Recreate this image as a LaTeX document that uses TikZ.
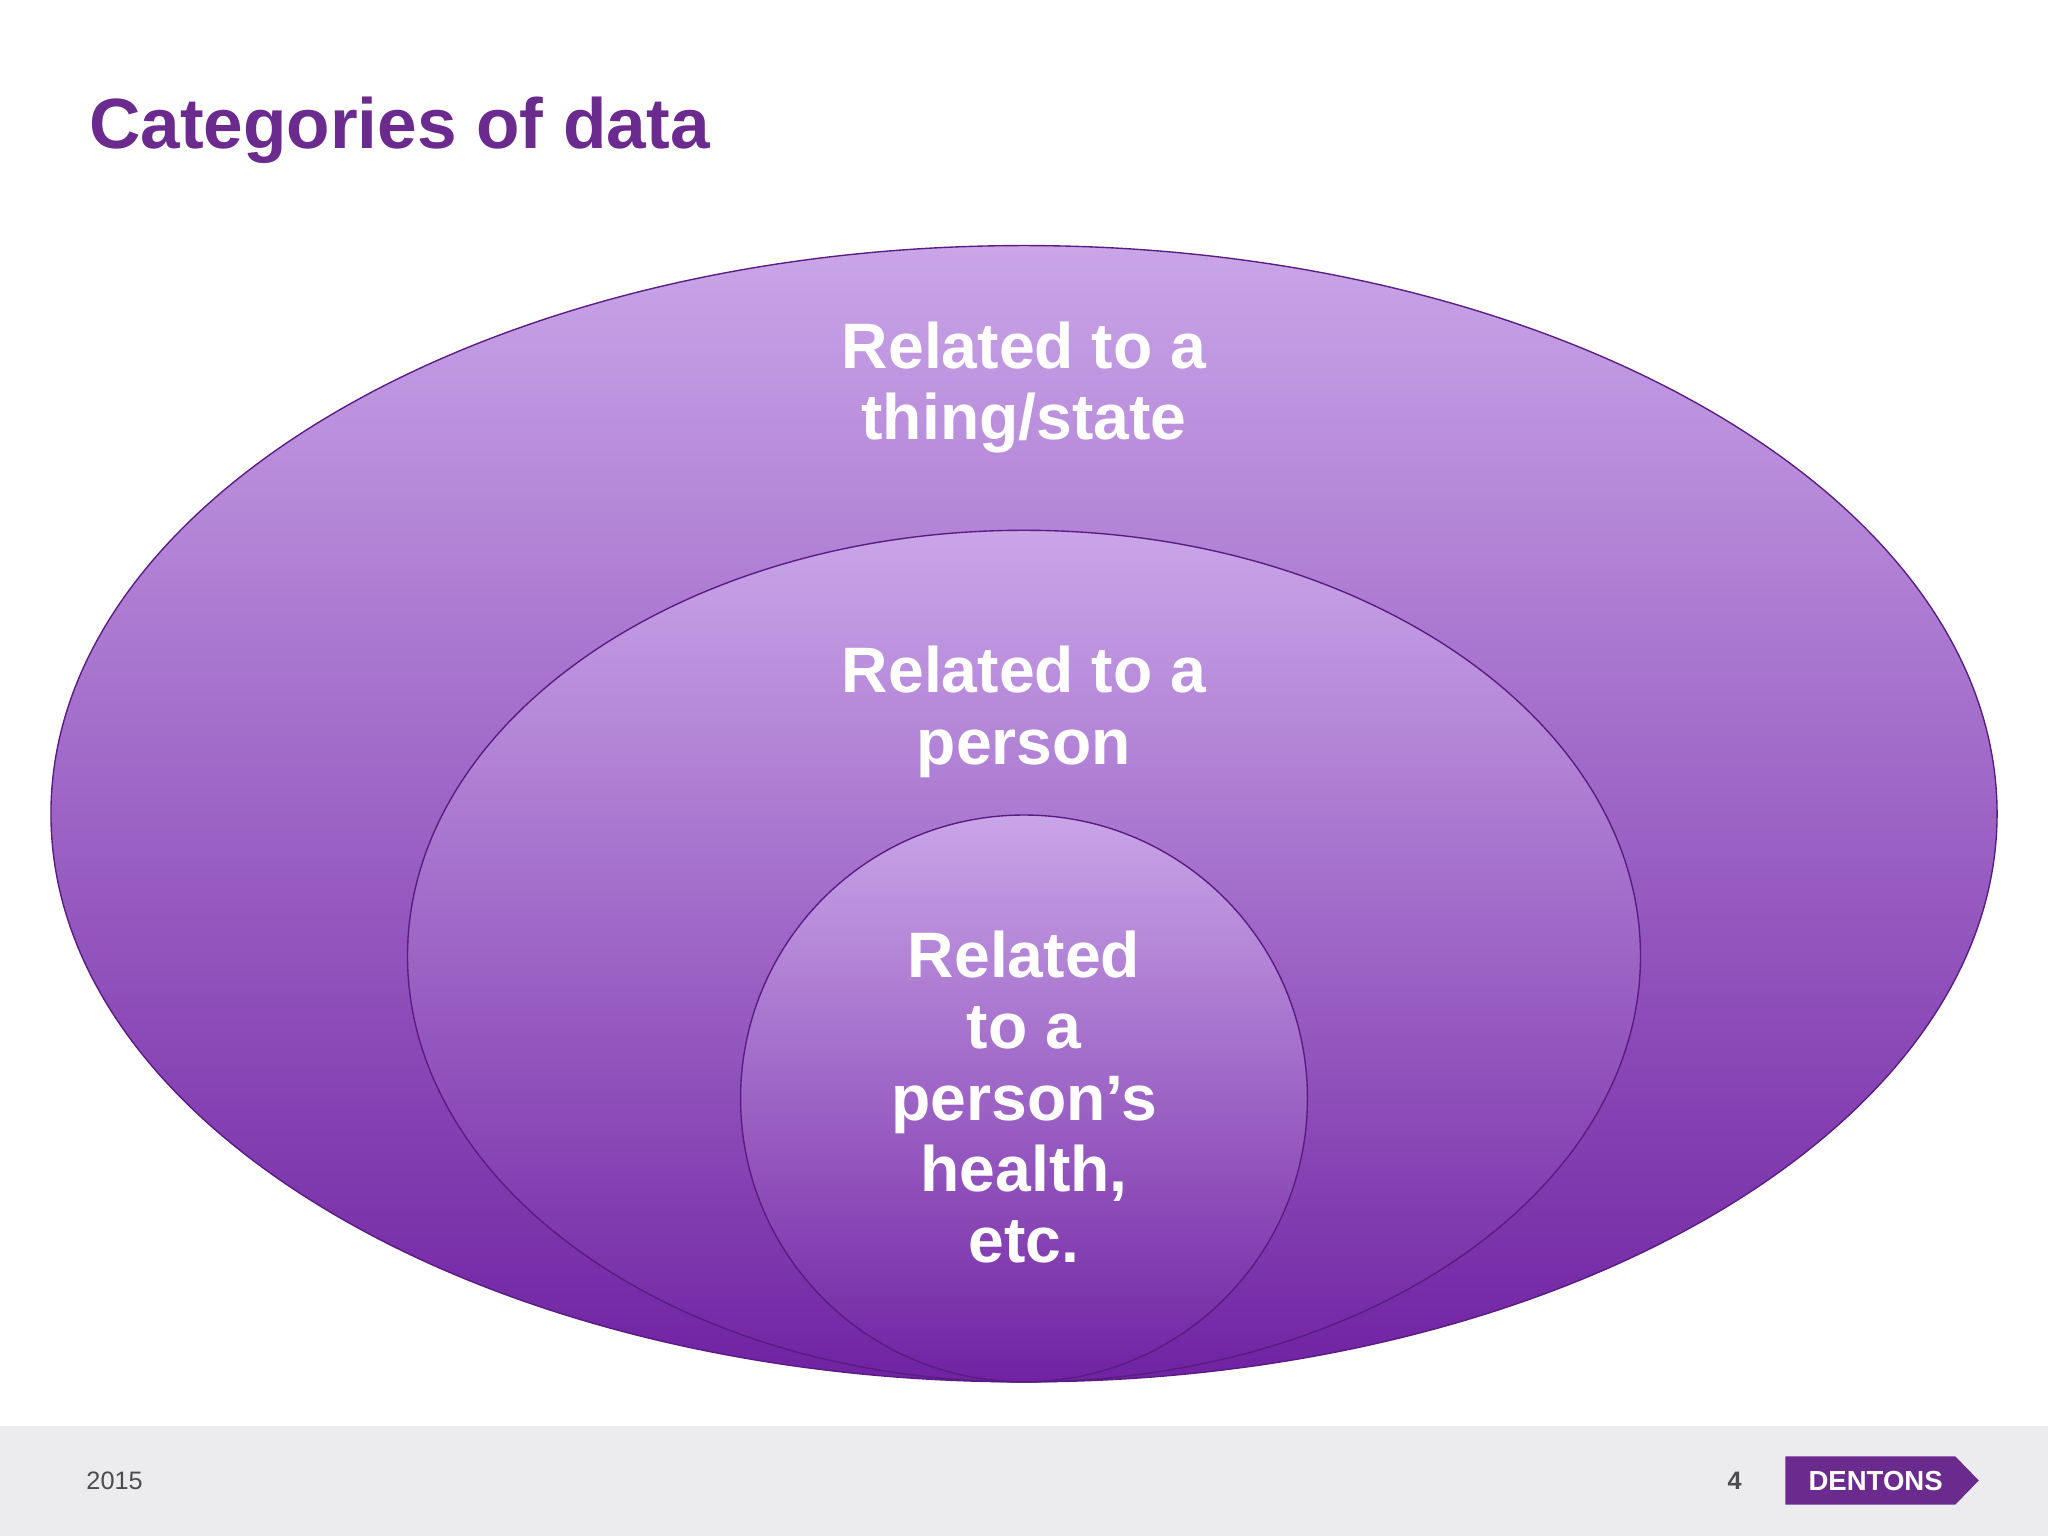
\documentclass[tikz,border=0pt]{standalone}
\usepackage{fontspec}
\setmainfont{Liberation Sans}
\begin{document}
\begin{tikzpicture}[x=0.02cm,y=-0.02cm,
  ell/.style={top color=lav, bottom color=deep, draw=deep!80!black, line width=0.6pt},
  lbl/.style={text=white, font=\bfseries\fontsize{28}{31}\selectfont, align=center}]
\definecolor{lav}{HTML}{C9A5E8}
\definecolor{deep}{HTML}{7022A2}
\definecolor{ttl}{HTML}{6A2A8E}
\definecolor{foot}{HTML}{ECECEE}
\useasboundingbox (0,0) rectangle (1568,1176);
\fill[white] (0,0) rectangle (1568,1176);
\fill[foot] (0,1092) rectangle (1568,1176);
\node[anchor=west, text=ttl, font=\bfseries\fontsize{31}{34}\selectfont] (title) at (62,100) {Categories of data};
\shade[ell] (784,623) ellipse [x radius=745, y radius=435];
\shade[ell] (784,732) ellipse [x radius=472, y radius=326];
\shade[ell] (784,841) ellipse [x radius=217, y radius=217];
\node[lbl] (t1) at (784,297) {Related to a\\thing/state};
\node[lbl] (t2) at (784,545) {Related to a\\person};
\node[lbl] (t3) at (784,840) {Related\\to a\\person’s\\health,\\etc.};
\node[anchor=west, text=black!70, font=\fontsize{11}{13}\selectfont] (yr) at (60,1134) {2015};
\node[text=black!70, font=\bfseries\fontsize{11}{13}\selectfont] (pg) at (1328,1134) {4};
\fill[ttl] (1367,1115) -- (1497,1115) -- (1515,1133.5) -- (1497,1152) -- (1367,1152) -- cycle;
\node[text=white, font=\bfseries\fontsize{12}{14}\selectfont] (logo) at (1436,1134) {DENTONS};
\end{tikzpicture}
\end{document}
